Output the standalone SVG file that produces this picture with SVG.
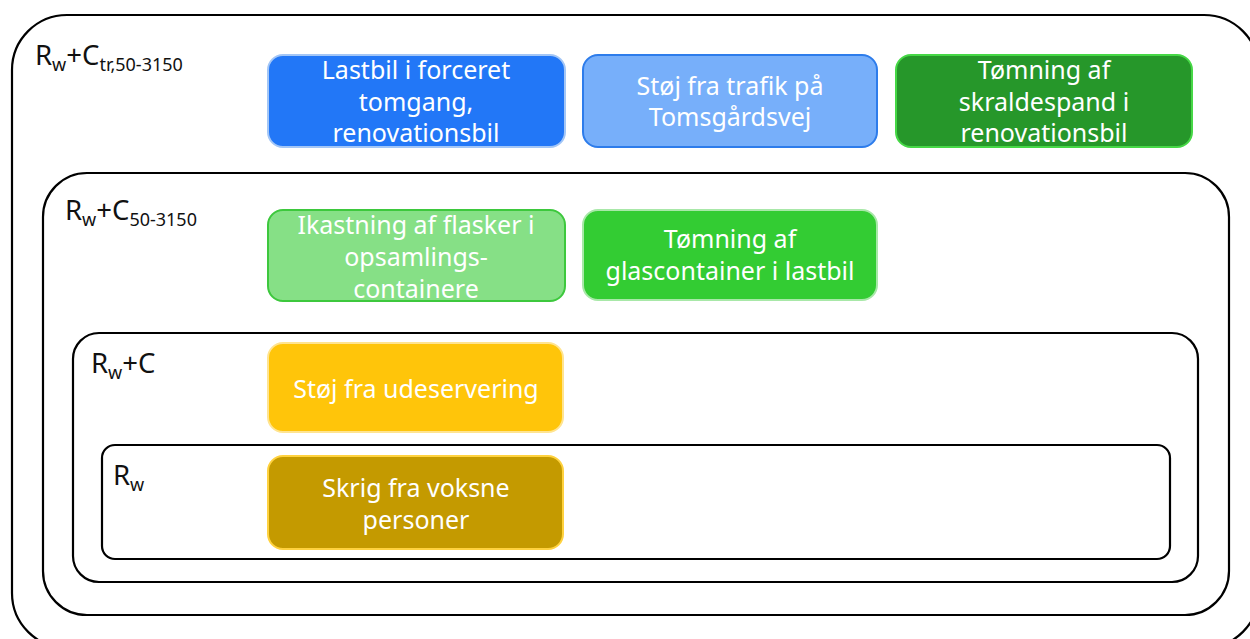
<svg xmlns="http://www.w3.org/2000/svg" width="1250" height="639" viewBox="0 0 1250 639">
<style>
.frame{fill:none;stroke:#000;stroke-width:2.2}
.lbl{font-family:"Noto Sans","Open Sans",sans-serif;font-size:27.5px;fill:#111}
.sub{font-size:18px}
.box{stroke-width:2}
.t{font-family:"Noto Sans","Open Sans",sans-serif;font-size:25px;fill:#fff;text-anchor:middle}
</style>
<rect width="1250" height="639" fill="#fff"/>
<g id="group-ctr">
<rect class="frame" x="12" y="15" width="1247" height="633" rx="55"/>
<text class="lbl" x="35" y="65">R<tspan class="sub" dy="6">w</tspan><tspan dy="-6">+C</tspan><tspan class="sub" dy="6">tr,50-3150</tspan></text>
</g>
<g id="group-c50">
<rect class="frame" x="43" y="173" width="1186" height="442" rx="44"/>
<text class="lbl" x="65" y="220">R<tspan class="sub" dy="6">w</tspan><tspan dy="-6">+C</tspan><tspan class="sub" dy="6">50-3150</tspan></text>
</g>
<g id="group-c">
<rect class="frame" x="73" y="333" width="1125" height="249" rx="26"/>
<text class="lbl" x="91" y="373">R<tspan class="sub" dy="6">w</tspan><tspan dy="-6">+C</tspan></text>
</g>
<g id="group-rw">
<rect class="frame" x="102" y="445" width="1068" height="114" rx="13"/>
<text class="lbl" x="113" y="485">R<tspan class="sub" dy="6">w</tspan></text>
</g>
<g id="n1">
<rect class="box" x="268" y="55" width="297" height="92" rx="15" fill="#2277F7" stroke="#A3C6F6"/>
<text class="t"><tspan x="416" y="79">Lastbil i forceret</tspan><tspan x="416" y="111">tomgang,</tspan><tspan x="416" y="142">renovationsbil</tspan></text>
</g>
<g id="n2">
<rect class="box" x="583" y="55" width="294" height="92" rx="15" fill="#77AFFA" stroke="#2D7CEB"/>
<text class="t"><tspan x="730" y="95">Støj fra trafik på</tspan><tspan x="730" y="126">Tomsgårdsvej</tspan></text>
</g>
<g id="n3">
<rect class="box" x="896" y="55" width="296" height="92" rx="15" fill="#26972A" stroke="#46D846"/>
<text class="t"><tspan x="1044" y="79">Tømning af</tspan><tspan x="1044" y="111">skraldespand i</tspan><tspan x="1044" y="142">renovationsbil</tspan></text>
</g>
<g id="n4">
<rect class="box" x="268" y="210" width="297" height="91" rx="15" fill="#86E086" stroke="#3DC83D"/>
<text class="t"><tspan x="416" y="234">Ikastning af flasker i</tspan><tspan x="416" y="266">opsamlings-</tspan><tspan x="416" y="298">containere</tspan></text>
</g>
<g id="n5">
<rect class="box" x="583" y="210" width="294" height="90" rx="15" fill="#33CC33" stroke="#A8E8A8"/>
<text class="t"><tspan x="730" y="248">Tømning af</tspan><tspan x="730" y="280">glascontainer i lastbil</tspan></text>
</g>
<g id="n6">
<rect class="box" x="268" y="343" width="295" height="89" rx="15" fill="#FFC50A" stroke="#FFE490"/>
<text class="t"><tspan x="416" y="398">Støj fra udeservering</tspan></text>
</g>
<g id="n7">
<rect class="box" x="268" y="456" width="295" height="93" rx="15" fill="#C49A00" stroke="#FFD23F"/>
<text class="t"><tspan x="416" y="497">Skrig fra voksne</tspan><tspan x="416" y="529">personer</tspan></text>
</g>
<g id="connectors"></g>
</svg>
